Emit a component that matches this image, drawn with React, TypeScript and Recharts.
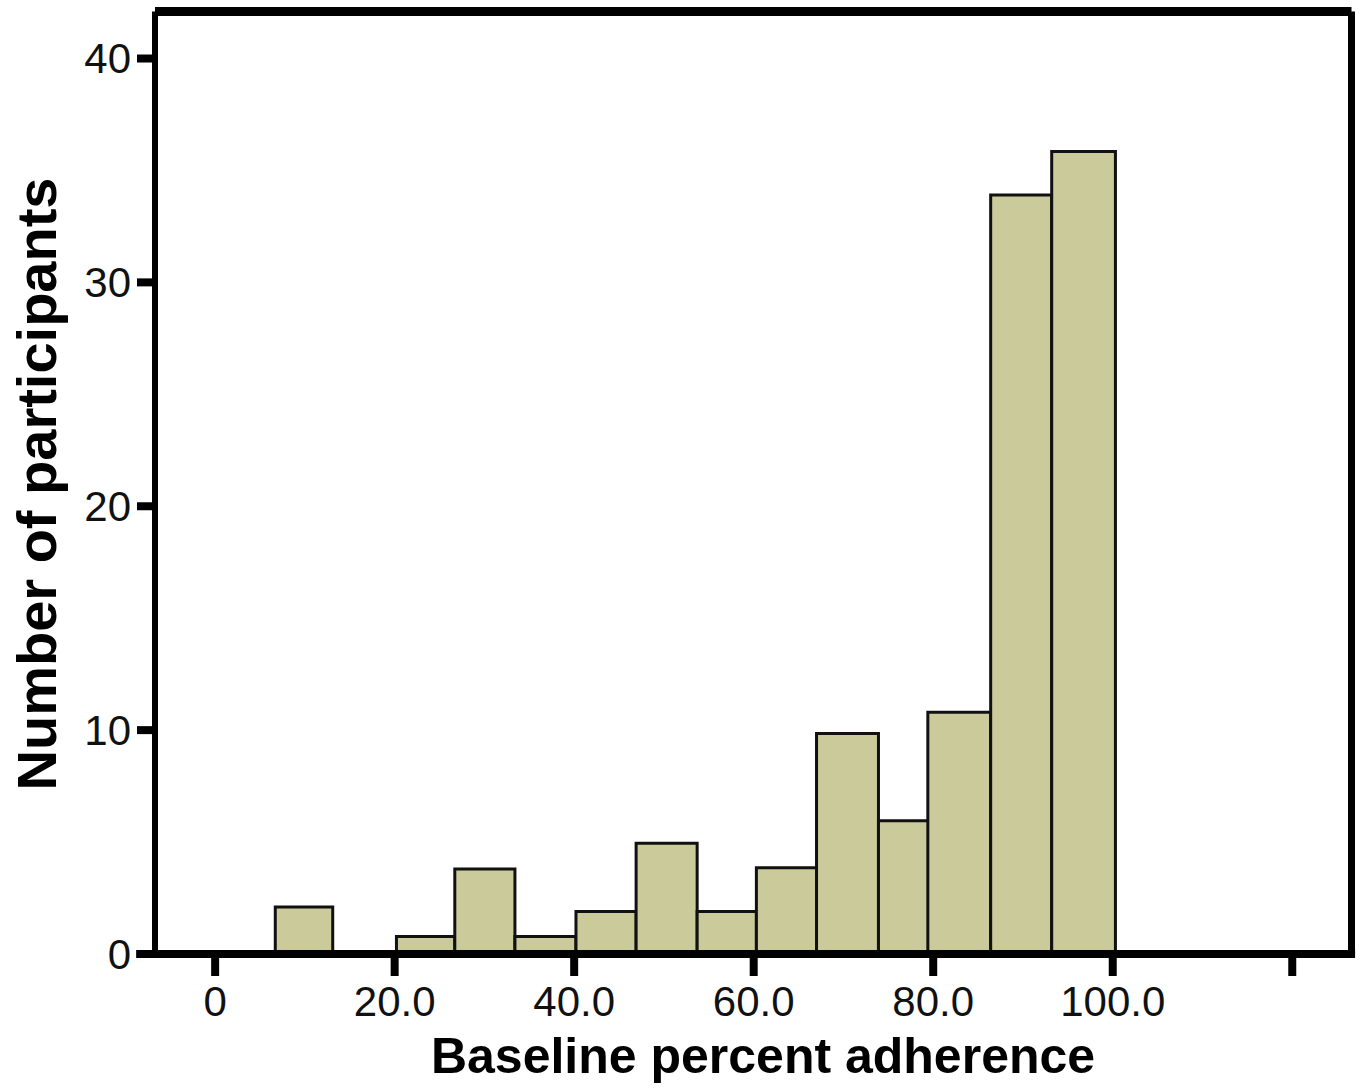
import { ComposedChart, XAxis, YAxis, ReferenceArea, ReferenceLine, Line, Customized } from 'recharts';

// histogram bins (x in percent adherence, count = bar height)
const binStart = [6.7, 20.2, 26.7, 33.4, 40.2, 46.9, 53.7, 60.3, 67.0, 73.9, 79.4, 86.4, 93.2];
const binEnd = [13.1, 26.7, 33.4, 40.2, 46.9, 53.7, 60.3, 67.0, 73.9, 80.3, 86.4, 93.2, 100.3];
const counts = [2.1, 0.78, 3.8, 0.78, 1.9, 4.95, 1.9, 3.85, 9.85, 5.95, 10.8, 33.9, 35.85];

const xTicks = [0, 20, 40, 60, 80, 100, 120];
const yTicks = [0, 10, 20, 30, 40];

const X_MIN = -6.7;
const X_MAX = 126.6;
const Y_MAX = 42.1;

const FONT = '"Liberation Sans", Arial, sans-serif';
const BAR_FILL = '#cbca9a';

export default function App() {
  const chartData = binStart.map((s, i) => ({
    mid: (s + binEnd[i]) / 2,
    count: counts[i],
  }));

  const formatX = (v: number) => {
    if (v === 0) return '0';
    if (v === 120) return '';
    return v.toFixed(1);
  };

  return (
    <div style={{ position: 'absolute', left: 0, top: 0, width: 1363, height: 1092, background: '#fff' }}>
      <ComposedChart
        width={1363}
        height={1092}
        data={chartData}
        margin={{ top: 11.5, right: 11.5, left: 0, bottom: 78 }}
      >
        <XAxis
          type="number"
          dataKey="mid"
          domain={[X_MIN, X_MAX]}
          ticks={xTicks}
          tickFormatter={formatX}
          axisLine={false}
          tickLine={{ stroke: '#000', strokeWidth: 8 }}
          tickSize={22}
          tickMargin={10}
          height={60}
          tick={{ fill: '#111', fontSize: 42, fontFamily: FONT }}
          allowDataOverflow
        />
        <YAxis
          type="number"
          domain={[0, Y_MAX]}
          ticks={yTicks}
          width={155}
          axisLine={{ stroke: '#000', strokeWidth: 6 }}
          tickLine={{ stroke: '#000', strokeWidth: 8 }}
          tickSize={18}
          tickMargin={6}
          tick={{ fill: '#111', fontSize: 42, fontFamily: FONT }}
          allowDataOverflow
        />

        {binStart.map((s, i) => (
          <ReferenceArea
            key={i}
            x1={s}
            x2={binEnd[i]}
            y1={0}
            y2={counts[i]}
            fill={BAR_FILL}
            fillOpacity={1}
            stroke="#111"
            strokeWidth={3}
            ifOverflow="visible"
          />
        ))}

        <Line dataKey="count" stroke="none" dot={false} activeDot={false} isAnimationActive={false} />

        {/* frame: top + right, and the x axis line running past the plot */}
        <ReferenceLine
          segment={[{ x: X_MIN, y: Y_MAX }, { x: X_MAX, y: Y_MAX }]}
          stroke="#000"
          strokeWidth={9}
          ifOverflow="visible"
        />
        <ReferenceLine
          segment={[{ x: X_MAX, y: 0 }, { x: X_MAX, y: Y_MAX }]}
          stroke="#000"
          strokeWidth={7}
          ifOverflow="visible"
        />
        <ReferenceLine
          segment={[{ x: -8.8, y: 0 }, { x: 127, y: 0 }]}
          stroke="#000"
          strokeWidth={8}
          ifOverflow="visible"
        />

        <Customized
          component={() => (
            <g>
              <text
                x={763}
                y={1073}
                textAnchor="middle"
                fontFamily={FONT}
                fontWeight="bold"
                fontSize={50}
                fill="#000"
              >
                Baseline percent adherence
              </text>
              <text
                x={56}
                y={484}
                transform="rotate(-90 56 484)"
                textAnchor="middle"
                fontFamily={FONT}
                fontWeight="bold"
                fontSize={56}
                fill="#000"
              >
                Number of participants
              </text>
            </g>
          )}
        />
      </ComposedChart>
    </div>
  );
}
